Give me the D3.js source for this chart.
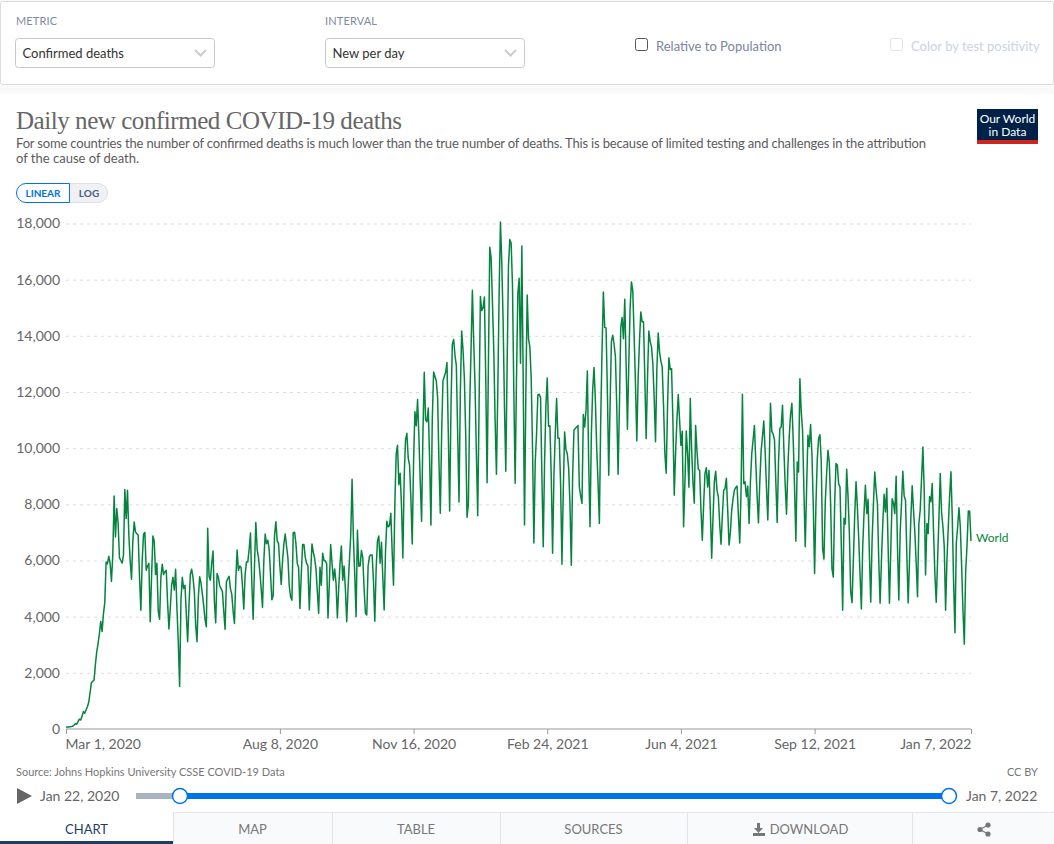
<!DOCTYPE html>
<html>
<head>
<meta charset="utf-8">
<script src="https://cdn.jsdelivr.net/npm/d3@7"></script>
<style>
  body { margin: 0; background: #f9f9f9; overflow: hidden; }
  svg { display: block; font-family: Lato, sans-serif; }
  .tick text { font-family: Lato, sans-serif; }
</style>
</head>
<body>
<svg id="chart" width="1054" height="844"></svg>
<script>
// one row per week, every row starts on a Sunday (Mar 1, 2020 was a Sunday)
const dailyDeaths = [
  70,70,75,80,85,100,140,
  190,170,260,350,320,450,620,
  560,680,790,950,1300,1650,1700,
  1740,2300,2750,3050,3400,3830,3470,
  4100,4500,5950,5880,6150,5900,5250,
  6200,8300,6840,7850,7320,6100,6000,
  5910,6200,8530,7500,8500,6900,6000,
  5330,6700,7370,7020,6950,6900,5400,
  4230,6000,6940,7000,5650,5800,5900,
  3820,5400,6870,6700,5500,5900,4200,
  3910,5400,5870,5500,5600,5650,4500,
  3560,4300,5120,5400,4950,5690,4300,
  3100,1510,4600,5400,5000,5120,4100,
  3110,4400,5500,5690,5400,4900,3700,
  3110,4700,5420,5200,4800,4400,3900,
  3640,7150,5450,5300,5900,6340,4550,
  3780,5540,5400,5100,5000,4900,4200,
  3550,5240,5350,5440,5000,4800,4200,
  3760,5300,6370,5650,5800,5750,5100,
  4270,5500,5950,5950,6400,6980,5200,
  3910,5800,7350,6400,6100,5600,5000,
  4330,6000,6940,6600,6720,6400,5500,
  4600,4750,6900,7380,6700,6600,5800,
  5150,6000,6600,6940,6500,6100,5100,
  4700,4590,7000,7010,6600,5900,5750,
  4290,5500,6570,6570,6100,5900,5800,
  4240,5500,6590,6300,6080,5700,4900,
  4120,5760,5120,6260,6000,5980,5900,
  3950,5200,6570,5900,5300,5700,5200,
  3950,5000,5900,6520,5300,5800,5000,
  3820,5000,5980,6900,8890,6800,5500,
  4000,7080,5800,5800,6360,6100,5000,
  4120,4060,5800,6150,6200,6200,5300,
  3840,5700,6700,6870,5900,6650,5400,
  4240,6300,7400,7200,7250,7680,6300,
  5120,8000,9800,10100,8700,9110,7900,
  6090,9000,10300,10530,9650,9400,8200,
  6590,9500,11300,10800,11730,10400,8800,
  7400,10500,12700,11000,10940,11430,9600,
  7260,11000,12710,12550,12400,11800,9500,
  7680,10500,12400,12550,12700,13050,10500,
  7760,11500,13700,13870,13300,12950,10500,
  8080,12000,14170,13500,12500,10500,7540,
  8000,11500,13500,15620,13800,12200,9800,
  7590,11500,15400,14900,15000,15380,12500,
  8770,13000,17150,16800,15200,13500,11000,
  9070,12000,15500,18050,16600,14500,11500,
  9180,13000,16500,17430,17300,15800,12000,
  8750,12500,15500,16050,13020,17200,12500,
  7260,12000,15450,13900,13600,12500,10000,
  6620,9500,10500,11900,11920,11800,9000,
  6490,9500,11500,12500,10780,10800,9000,
  6260,9000,10500,11770,10350,10350,8700,
  5870,8500,10580,9950,9800,9300,8000,
  5830,9000,10650,10700,10750,10810,8620,
  8300,8030,11200,10750,11350,12750,9500,
  7200,10500,12100,12870,11700,10000,8800,
  7320,11000,13500,15560,14300,14280,12000,
  9040,11500,13800,14020,13700,13250,11500,
  9070,11500,14310,14650,13900,15300,13000,
  10670,13000,15000,15920,15600,14000,12300,
  10260,12500,13800,14850,14500,14500,12500,
  10340,12500,14170,13800,13600,13000,11800,
  10230,12800,14100,13430,13100,12900,11500,
  9800,9110,11500,13220,12800,12830,11000,
  8320,9800,11000,11910,11000,10100,10600,
  7200,8800,10610,9800,8610,11770,10000,
  8800,8040,10810,9900,9250,9210,7800,
  6720,8000,9100,9300,8620,9210,7800,
  6080,7500,8800,9180,8500,8270,7300,
  6580,7600,8500,8560,8930,7800,6550,
  7000,7800,8200,8500,8600,8650,7600,
  6620,8500,11920,8740,8800,8270,8640,
  7320,8800,9800,10300,10810,9500,8300,
  7340,8800,9900,10400,10970,9900,8600,
  7440,9300,11600,10600,10500,10300,8800,
  7350,9500,10700,10750,11530,10000,8700,
  7650,9300,10400,11200,11600,10300,8600,
  6690,9510,9150,12470,11300,10630,8500,
  6490,8500,10460,10050,10840,9800,8000,
  5540,8000,9600,10350,10480,9500,6420,
  6050,8100,9100,9930,9500,8000,5700,
  5410,8000,9450,9400,8730,8620,6500,
  4230,7500,7300,9250,8300,7000,4880,
  4500,6000,7600,8800,7900,6800,5500,
  4270,6500,7700,8680,7670,8180,6200,
  4510,6700,8000,9150,8500,8030,6000,
  4480,6000,7300,8360,7730,8570,6500,
  4480,6400,8200,8050,7670,9000,6500,
  4590,7000,8000,9180,8300,8150,6200,
  4490,6000,7500,8660,7800,7000,5900,
  4710,7300,7800,8900,10040,8500,5480,
  7320,6960,8270,8090,8740,7000,5500,
  4510,6000,7500,9100,7700,7200,6500,
  4230,6000,7200,8300,9160,7500,5200,
  3430,6620,7200,7880,7200,5800,4200,
  3020,5600,6500,7760,7750,6700
];
const firstDay = new Date(2020, 2, 1);
const yTicks = [0, 2000, 4000, 6000, 8000, 10000, 12000, 14000, 16000, 18000];
const xTickDates = [
  new Date(2020, 2, 1), new Date(2020, 7, 8), new Date(2020, 10, 16), new Date(2021, 1, 24),
  new Date(2021, 5, 4), new Date(2021, 8, 12), new Date(2022, 0, 7)
];
const tabs = ['CHART', 'MAP', 'TABLE', 'SOURCES', 'DOWNLOAD'];
const tabEdges = [0, 173, 332, 500, 687, 912, 1054];

const dates = dailyDeaths.map((_, i) => d3.timeDay.offset(firstDay, i));
const svg = d3.select('#chart');

const x = d3.scaleTime().domain([firstDay, xTickDates[xTickDates.length - 1]]).range([66, 971]);
const y = d3.scaleLinear().domain([0, 18000]).range([729, 223.5]);

function label(parent, px, py, str, size, fill, anchor) {
  return parent.append('text').attr('x', px).attr('y', py).attr('font-size', size)
    .attr('fill', fill).attr('text-anchor', anchor || 'start').text(str);
}

// controls panel
svg.append('rect').attr('x', 0).attr('y', 0).attr('width', 1054).attr('height', 844).attr('fill', '#f9f9f9');
svg.append('rect').attr('x', 0.5).attr('y', 1.5).attr('width', 1053).attr('height', 83).attr('rx', 2)
  .attr('fill', '#fff').attr('stroke', '#dcdcdc');
svg.append('rect').attr('x', 0).attr('y', 94).attr('width', 1054).attr('height', 718).attr('rx', 2).attr('fill', '#fff');

label(svg, 16, 25, 'METRIC', 11, '#7f8aa3').attr('textLength', 41);
label(svg, 325, 25, 'INTERVAL', 11, '#7f8aa3').attr('textLength', 52);

function selectBox(px, str) {
  svg.append('rect').attr('x', px + .5).attr('y', 38.5).attr('width', 199).attr('height', 29).attr('rx', 3)
    .attr('fill', '#fff').attr('stroke', '#c8c8c8');
  label(svg, px + 7.5, 58, str, 13, '#333');
  svg.append('path').attr('d', `M${px + 180},50l5.5,5.5l5.5,-5.5`).attr('fill', 'none')
    .attr('stroke', '#ccc').attr('stroke-width', 2);
}
selectBox(15, 'Confirmed deaths');
selectBox(325, 'New per day');

svg.append('rect').attr('x', 635.5).attr('y', 38.5).attr('width', 12).attr('height', 12).attr('rx', 2)
  .attr('fill', '#fff').attr('stroke', '#555');
label(svg, 656, 51, 'Relative to Population', 13, '#7a859e');
svg.append('rect').attr('x', 890.5).attr('y', 38.5).attr('width', 12).attr('height', 12).attr('rx', 2)
  .attr('fill', '#fff').attr('stroke', '#e4e4e4');
label(svg, 911, 51, 'Color by test positivity', 13, '#ccd2df');

// header
label(svg, 16, 129, 'Daily new confirmed COVID-19 deaths', 25, '#666')
  .attr('font-family', '"Liberation Serif", serif').attr('textLength', 386);
label(svg, 16, 148, 'For some countries the number of confirmed deaths is much lower than the true number of deaths. This is because of limited testing and challenges in the attribution', 13, '#5b5b5b')
  .attr('textLength', 910);
label(svg, 16, 163, 'of the cause of death.', 13, '#5b5b5b');

svg.append('rect').attr('x', 977).attr('y', 109).attr('width', 61).attr('height', 35).attr('fill', '#002147');
svg.append('rect').attr('x', 977).attr('y', 140).attr('width', 61).attr('height', 4).attr('fill', '#ce261e');
label(svg, 1007.5, 123, 'Our World', 12, '#fff', 'middle');
label(svg, 1007.5, 136, 'in Data', 12, '#fff', 'middle');

// linear / log toggle
svg.append('rect').attr('x', 60).attr('y', 183.5).attr('width', 47.5).attr('height', 19).attr('rx', 9.5)
  .attr('fill', '#eff1f5').attr('stroke', '#dcdfe6');
svg.append('path').attr('d', 'M69.5,183.5H26a9.5,9.5 0 0 0 0,19H69.5Z').attr('fill', '#fff').attr('stroke', '#0073e6');
label(svg, 43, 197, 'LINEAR', 10, '#0073e6', 'middle').attr('font-weight', 700);
label(svg, 89, 197, 'LOG', 10, '#4c5c7d', 'middle').attr('font-weight', 700);

// y axis + gridlines
const yAxis = svg.append('g').attr('transform', 'translate(66,0)')
  .call(d3.axisLeft(y).tickValues(yTicks).tickFormat(d3.format(',')).tickSize(0).tickPadding(6));
yAxis.select('.domain').remove();
yAxis.selectAll('.tick text').attr('font-size', 14).attr('fill', '#666');
yAxis.selectAll('.tick').filter(d => d > 0).append('line')
  .attr('x2', 905).attr('stroke', '#ddd').attr('stroke-dasharray', '3,4');

// x axis
const xAxis = svg.append('g').attr('transform', 'translate(0,729)')
  .call(d3.axisBottom(x).tickValues(xTickDates).tickFormat(d3.timeFormat('%b %-d, %Y')).tickSize(5).tickPadding(5));
xAxis.select('.domain').attr('stroke', '#999').attr('d', 'M66,0H971');
xAxis.selectAll('.tick line').attr('stroke', '#999');
xAxis.selectAll('.tick text').attr('font-size', 14).attr('fill', '#666')
  .attr('text-anchor', (d, i) => i === 0 ? 'start' : i === xTickDates.length - 1 ? 'end' : 'middle')
  .attr('dx', (d, i) => i === 0 ? -1 : 0);

// series
const line = d3.line().x((d, i) => x(dates[i])).y(d => y(d));
svg.append('path').datum(dailyDeaths).attr('d', line).attr('fill', 'none')
  .attr('stroke', '#058440').attr('stroke-width', 1.5).attr('stroke-linejoin', 'round');
label(svg, 976, y(dailyDeaths[dailyDeaths.length - 1]) + 1, 'World', 12, '#058440');

// footer
label(svg, 16, 776, 'Source: Johns Hopkins University CSSE COVID-19 Data', 11, '#777');
label(svg, 1038, 776, 'CC BY', 11, '#777', 'end');

svg.append('path').attr('d', 'M17,788L32,796L17,804Z').attr('fill', '#666');
label(svg, 40, 801, 'Jan 22, 2020', 14, '#666');
label(svg, 966, 801, 'Jan 7, 2022', 14, '#666');
svg.append('rect').attr('x', 136).attr('y', 793).attr('width', 44).attr('height', 6).attr('fill', '#a9b4c3');
svg.append('rect').attr('x', 180).attr('y', 793).attr('width', 769).attr('height', 6).attr('fill', '#0073e6');
[180, 949].forEach(cx => {
  svg.append('circle').attr('cx', cx).attr('cy', 796).attr('r', 7.5).attr('fill', '#fff')
    .attr('stroke', '#0073e6').attr('stroke-width', 1.5);
});

// tabs
svg.append('rect').attr('x', 0).attr('y', 812).attr('width', 1054).attr('height', 32).attr('fill', '#fff');
tabEdges.slice(0, -1).forEach((left, i) => {
  const right = tabEdges[i + 1];
  svg.append('rect').attr('x', left + .5).attr('y', 812.5).attr('width', right - left).attr('height', 33)
    .attr('fill', i === 0 ? '#fff' : '#f9fafb').attr('stroke', i === 0 ? 'none' : '#e2e4e8');
  if (i < tabs.length) {
    const cx = tabs[i] === 'DOWNLOAD' ? 809 : (left + right) / 2;
    label(svg, cx, 834, tabs[i], 13, i === 0 ? '#1d3d63' : '#777', 'middle');
  }
});
svg.append('rect').attr('x', 0).attr('y', 841).attr('width', 173).attr('height', 3).attr('fill', '#1d3d63');

// download + share icons
svg.append('path').attr('d', 'M757,823h3v5h3l-4.500,5l-4.500,-5h3zM753,833h12v3h-12z').attr('fill', '#777');
svg.append('g').attr('fill', '#777').call(g => {
  [[988, 825], [980, 829.5], [988, 834]].forEach(([cx, cy]) => {
    g.append('circle').attr('cx', cx).attr('cy', cy).attr('r', 2.6);
  });
  g.append('path').attr('d', 'M988,825L980,829.500L988,834').attr('fill', 'none').attr('stroke', '#777').attr('stroke-width', 1.2);
});
</script>
</body>
</html>
